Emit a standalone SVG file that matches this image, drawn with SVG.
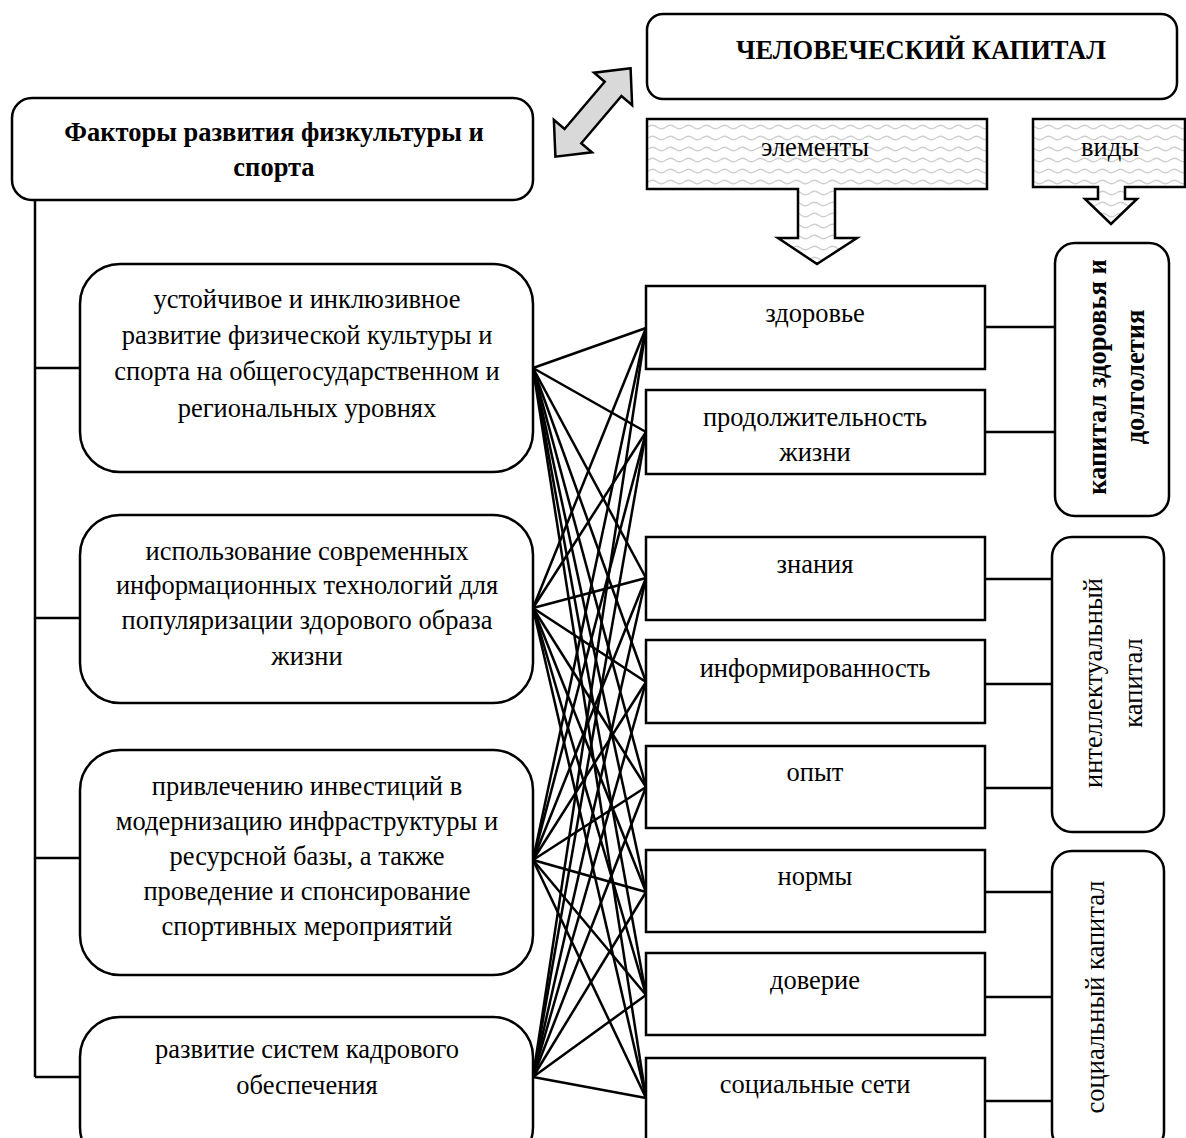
<svg xmlns="http://www.w3.org/2000/svg" width="1186" height="1138" viewBox="0 0 1186 1138">
<defs>
<pattern id="wave" patternUnits="userSpaceOnUse" width="18" height="11">
<rect width="18" height="11" fill="#ffffff"/>
<path d="M0 6 Q4.5 2.5 9 6 T18 6" fill="none" stroke="#cfcfcf" stroke-width="1.4"/>
</pattern>
<style>
.box{fill:#fff;stroke:#000;stroke-width:2.5}
.ln{stroke:#000;stroke-width:2.5;fill:none}
.t{font-family:"Liberation Serif","Times New Roman",serif;font-size:26.5px;fill:#000;text-anchor:middle}
.b{font-weight:bold}
.arr{fill:url(#wave);stroke:#000;stroke-width:2.5}
</style>
</defs>
<rect width="1186" height="1138" fill="#fff"/>

<g id="connectors">
<polyline class="ln" points="35,200 35,1077"/>
<line class="ln" x1="35" y1="368" x2="80" y2="368"/>
<line class="ln" x1="35" y1="618" x2="80" y2="618"/>
<line class="ln" x1="35" y1="858" x2="80" y2="858"/>
<line class="ln" x1="35" y1="1077" x2="80" y2="1077"/>
<g class="ln">
<line x1="533" y1="368" x2="646" y2="328"/><line x1="533" y1="368" x2="646" y2="432"/><line x1="533" y1="368" x2="646" y2="578"/><line x1="533" y1="368" x2="646" y2="682"/><line x1="533" y1="368" x2="646" y2="787"/><line x1="533" y1="368" x2="646" y2="892"/><line x1="533" y1="368" x2="646" y2="995"/><line x1="533" y1="368" x2="646" y2="1098"/>
<line x1="533" y1="608" x2="646" y2="328"/><line x1="533" y1="608" x2="646" y2="432"/><line x1="533" y1="608" x2="646" y2="578"/><line x1="533" y1="608" x2="646" y2="682"/><line x1="533" y1="608" x2="646" y2="787"/><line x1="533" y1="608" x2="646" y2="892"/><line x1="533" y1="608" x2="646" y2="995"/><line x1="533" y1="608" x2="646" y2="1098"/>
<line x1="533" y1="860" x2="646" y2="328"/><line x1="533" y1="860" x2="646" y2="432"/><line x1="533" y1="860" x2="646" y2="578"/><line x1="533" y1="860" x2="646" y2="682"/><line x1="533" y1="860" x2="646" y2="787"/><line x1="533" y1="860" x2="646" y2="892"/><line x1="533" y1="860" x2="646" y2="995"/><line x1="533" y1="860" x2="646" y2="1098"/>
<line x1="533" y1="1077" x2="646" y2="328"/><line x1="533" y1="1077" x2="646" y2="432"/><line x1="533" y1="1077" x2="646" y2="578"/><line x1="533" y1="1077" x2="646" y2="682"/><line x1="533" y1="1077" x2="646" y2="787"/><line x1="533" y1="1077" x2="646" y2="892"/><line x1="533" y1="1077" x2="646" y2="995"/><line x1="533" y1="1077" x2="646" y2="1098"/>
</g>
<line class="ln" x1="985" y1="327" x2="1055" y2="327"/>
<line class="ln" x1="985" y1="432" x2="1055" y2="432"/>
<line class="ln" x1="985" y1="579" x2="1052" y2="579"/>
<line class="ln" x1="985" y1="684" x2="1052" y2="684"/>
<line class="ln" x1="985" y1="788" x2="1052" y2="788"/>
<line class="ln" x1="985" y1="892" x2="1052" y2="892"/>
<line class="ln" x1="985" y1="997" x2="1052" y2="997"/>
<line class="ln" x1="985" y1="1101" x2="1052" y2="1101"/>
</g>

<g id="double-arrow">
<polygon transform="translate(593,112.5) rotate(-49.6)" points="58,0 31,-25 31,-11 -31,-11 -31,-25 -58,0 -31,25 -31,11 31,11 31,25" fill="#d9d9d9" stroke="#000" stroke-width="2.5" stroke-linejoin="miter"/>
</g>

<g id="human-capital">
<rect class="box" x="647" y="14" width="530" height="85" rx="16"/>
<text class="t b" x="921" y="59">ЧЕЛОВЕЧЕСКИЙ КАПИТАЛ</text>
</g>

<g id="factors-title">
<rect class="box" x="12" y="98" width="521" height="102" rx="20"/>
<text class="t b" x="274" y="141">Факторы развития физкультуры и</text>
<text class="t b" x="274" y="176">спорта</text>
</g>

<g id="arrow-elements">
<polygon class="arr" points="647,119 987,119 987,189 835,189 835,238 857,238 817,264 778,238 798,238 798,189 647,189"/>
<text class="t" x="815" y="156">элементы</text>
</g>

<g id="arrow-types">
<polygon class="arr" points="1033,119 1185,119 1185,187 1125,187 1125,199 1137,199 1111,224 1085,199 1098,199 1098,187 1033,187"/>
<text class="t" x="1110" y="156">виды</text>
</g>

<g id="factor1">
<rect class="box" x="80" y="264" width="453" height="208" rx="40"/>
<text class="t" x="307" y="308">устойчивое и инклюзивное</text>
<text class="t" x="307" y="344">развитие физической культуры и</text>
<text class="t" x="307" y="380">спорта на общегосударственном и</text>
<text class="t" x="307" y="417">региональных уровнях</text>
</g>

<g id="factor2">
<rect class="box" x="80" y="515" width="453" height="188" rx="40"/>
<text class="t" x="307" y="560">использование современных</text>
<text class="t" x="307" y="594">информационных технологий для</text>
<text class="t" x="307" y="629">популяризации здорового образа</text>
<text class="t" x="307" y="665">жизни</text>
</g>

<g id="factor3">
<rect class="box" x="80" y="750" width="453" height="225" rx="40"/>
<text class="t" x="307" y="795">привлечению инвестиций в</text>
<text class="t" x="307" y="830">модернизацию инфраструктуры и</text>
<text class="t" x="307" y="865">ресурсной базы, а также</text>
<text class="t" x="307" y="900">проведение и спонсирование</text>
<text class="t" x="307" y="935">спортивных мероприятий</text>
</g>

<g id="factor4">
<rect class="box" x="80" y="1017" width="453" height="150" rx="40"/>
<text class="t" x="307" y="1058">развитие систем кадрового</text>
<text class="t" x="307" y="1094">обеспечения</text>
</g>

<g id="el-health">
<rect class="box" x="646" y="286" width="339" height="83"/>
<text class="t" x="815" y="322">здоровье</text>
</g>
<g id="el-life">
<rect class="box" x="646" y="390" width="339" height="84"/>
<text class="t" x="815" y="426">продолжительность</text>
<text class="t" x="815" y="461">жизни</text>
</g>
<g id="el-knowledge">
<rect class="box" x="646" y="537" width="339" height="83"/>
<text class="t" x="815" y="573">знания</text>
</g>
<g id="el-info">
<rect class="box" x="646" y="640" width="339" height="83"/>
<text class="t" x="815" y="677">информированность</text>
</g>
<g id="el-experience">
<rect class="box" x="646" y="746" width="339" height="82"/>
<text class="t" x="815" y="781">опыт</text>
</g>
<g id="el-norms">
<rect class="box" x="646" y="850" width="339" height="82"/>
<text class="t" x="815" y="885">нормы</text>
</g>
<g id="el-trust">
<rect class="box" x="646" y="953" width="339" height="82"/>
<text class="t" x="815" y="989">доверие</text>
</g>
<g id="el-networks">
<rect class="box" x="646" y="1058" width="339" height="100"/>
<text class="t" x="815" y="1093">социальные сети</text>
</g>

<g id="type-health">
<rect class="box" x="1055" y="243" width="114" height="273" rx="20"/>
<text class="t b" transform="rotate(-90 1106 377)" x="1106" y="377">капитал здоровья и</text>
<text class="t b" transform="rotate(-90 1144 377)" x="1144" y="377">долголетия</text>
</g>
<g id="type-intellectual">
<rect class="box" x="1052" y="537" width="112" height="295" rx="20"/>
<text class="t" transform="rotate(-90 1102 683)" x="1102" y="683">интеллектуальный</text>
<text class="t" transform="rotate(-90 1142 683)" x="1142" y="683">капитал</text>
</g>
<g id="type-social">
<rect class="box" x="1052" y="851" width="112" height="300" rx="20"/>
<text class="t" transform="rotate(-90 1104 997)" x="1104" y="997">социальный капитал</text>
</g>
</svg>
